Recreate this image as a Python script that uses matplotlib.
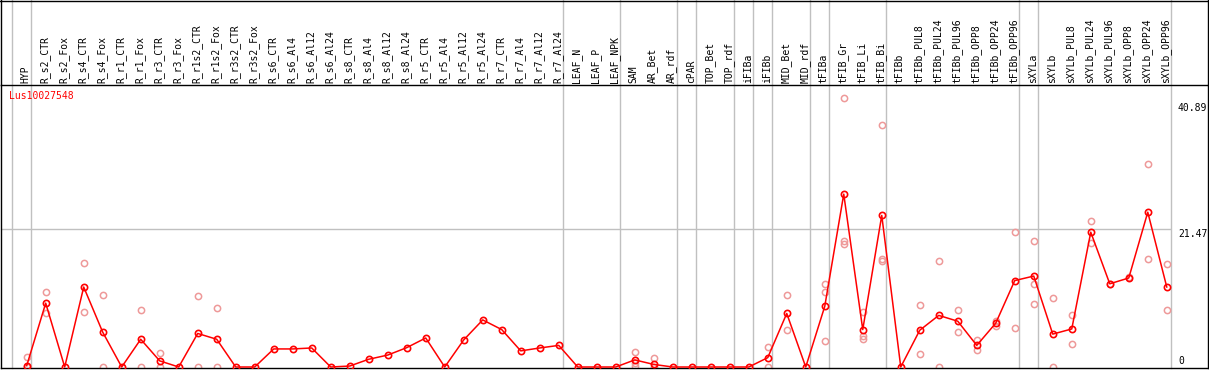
import matplotlib
matplotlib.use("Agg")
import matplotlib.pyplot as plt
from matplotlib.lines import Line2D

# sample names, mean expression and replicate values
samples = ["HYP", "R_s2_CTR", "R_s2_Fox", "R_s4_CTR", "R_s4_Fox", "R_r1_CTR", "R_r1_Fox",
           "R_r3_CTR", "R_r3_Fox", "R_r1s2_CTR", "R_r1s2_Fox", "R_r3s2_CTR", "R_r3s2_Fox",
           "R_s6_CTR", "R_s6_Al4", "R_s6_Al12", "R_s6_Al24", "R_s8_CTR", "R_s8_Al4",
           "R_s8_Al12", "R_s8_Al24", "R_r5_CTR", "R_r5_Al4", "R_r5_Al12", "R_r5_Al24",
           "R_r7_CTR", "R_r7_Al4", "R_r7_Al12", "R_r7_Al24", "LEAF_N", "LEAF_P", "LEAF_NPK",
           "SAM", "AR_Bet", "AR_rdf", "cPAR", "TOP_Bet", "TOP_rdf", "iFIBa", "iFIBb",
           "MID_Bet", "MID_rdf", "tFIBa", "tFIB_Gr", "tFIB_Li", "tFIB_Bi", "tFIBb",
           "tFIBb_PUL8", "tFIBb_PUL24", "tFIBb_PUL96", "tFIBb_OPP8", "tFIBb_OPP24",
           "tFIBb_OPP96", "sXYLa", "sXYLb", "sXYLb_PUL8", "sXYLb_PUL24", "sXYLb_PUL96",
           "sXYLb_OPP8", "sXYLb_OPP24", "sXYLb_OPP96"]

means = [0.2, 9.9, 0, 12.4, 5.4, 0, 4.3, 0.95, 0, 5.2, 4.3, 0, 0,
         2.8, 2.8, 2.95, 0, 0.15, 1.2, 1.85, 3.0, 4.5, 0, 4.2, 7.3,
         5.8, 2.5, 2.95, 3.35, 0, 0, 0,
         1.1, 0.4, 0, 0, 0, 0, 0, 1.45,
         8.3, 0, 9.4, 26.8, 5.8, 23.5, 0,
         5.7, 8.0, 7.1, 3.35, 6.8, 13.4,
         14.1, 5.1, 5.9, 20.9, 12.9, 13.8, 24.0, 12.4]

reps = [[1.6, 0], [11.6, 8.3], [], [16.1, 8.5], [11.1, 0], [], [8.9, 0],
        [2.1, 0], [], [11.0, 0], [9.1, 0], [], [],
        [], [], [], [], [], [], [], [], [], [], [], [],
        [], [], [], [], [], [], [],
        [2.3, 0.6, 0.1], [1.35, 0], [], [], [], [], [], [3.1, 0],
        [11.1, 5.7], [], [12.9, 11.6, 4.0], [41.7, 19.5, 19.0], [8.5, 4.8, 4.3],
        [37.5, 16.7, 16.5], [],
        [9.6, 2.0], [16.4, 0], [8.9, 5.4], [4.2, 2.7], [7.2, 6.4], [20.9, 6.0],
        [19.5, 12.9, 9.7], [10.7, 0], [8.1, 3.5], [22.6, 19.2], [12.9], [13.9],
        [31.4, 16.7], [15.9, 8.9]]

group_breaks = [-0.8, 0.2, 28.2, 31.2, 34.2, 35.2, 37.2, 38.2, 39.2, 41.2, 42.2,
                45.2, 52.2, 53.2, 60.2]
ytick_vals = [0, 21.47, 40.89]
gene = "Lus10027548"

W, H = 1209, 370
fig = plt.figure(figsize=(W / 100, H / 100), dpi=100)
ax = fig.add_axes([1 / W, 2 / H, 1207 / W, 283 / H])

x = list(range(len(samples)))
ax.set_xlim(-1.353, 62.17)
ax.set_ylim(-0.155, 43.72)

mono = "DejaVu Sans Mono"
grey = "#c0c0c0"

for b in group_breaks:
    ax.axvline(b, ymin=0, ymax=368 / 283, color=grey, lw=1, clip_on=False, zorder=1)
ax.axhline(21.47, xmin=0, xmax=1169 / 1207, color=grey, lw=1, zorder=1)

rx, ry = [], []
for i, r in enumerate(reps):
    for v in r:
        rx.append(i)
        ry.append(v)
ax.plot(rx, ry, "o", ms=4.5, mfc="none", mec="#ee9999", mew=1.1, zorder=2)
ax.plot(x, means, "-", color="red", lw=1.1, zorder=3)
ax.plot(x, means, "o", ms=4.5, mfc="none", mec="red", mew=1.2, zorder=4)

for i, name in enumerate(samples):
    ax.text(i - 0.05, 1 + 2 / 283, name, rotation=90, ha="center", va="bottom",
            transform=ax.get_xaxis_transform(), fontsize=7, family=mono, clip_on=False)

trans = ax.get_yaxis_transform()
ax.text(1177 / 1207, 40.89, "40.89", ha="left", va="top", transform=trans,
        fontsize=7, family=mono)
ax.text(1177 / 1207, 21.47, "21.47", ha="left", va="top", transform=trans,
        fontsize=7, family=mono)
ax.text(1177 / 1207, 0.2, "0", ha="left", va="bottom", transform=trans,
        fontsize=7, family=mono)

ax.text(8 / 1207, 1 - 6 / 283, gene, color="red", ha="left", va="top",
        transform=ax.transAxes, fontsize=7, family=mono)

ax.set_xticks([])
ax.set_yticks([])
for s in ax.spines.values():
    s.set_color("black")
    s.set_linewidth(1)

# outer frame around the label area
fig.add_artist(Line2D([0, 1], [1 - 0.5 / H, 1 - 0.5 / H], color="black", lw=1))
fig.add_artist(Line2D([1 / W, 1 / W], [285 / H, 1], color="black", lw=1))
fig.add_artist(Line2D([1208 / W, 1208 / W], [285 / H, 1], color="black", lw=1))

fig.savefig("out.png", dpi=100)
